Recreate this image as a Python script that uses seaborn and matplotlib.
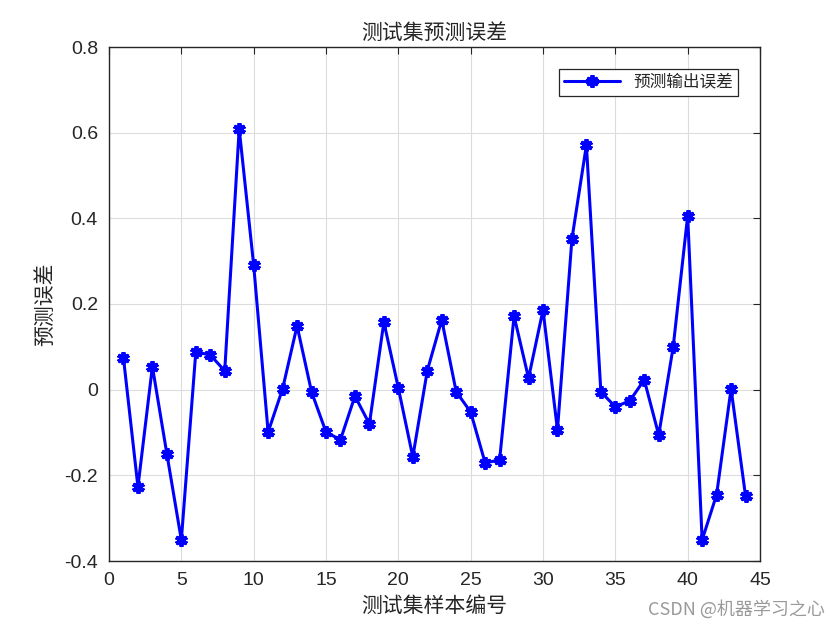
import matplotlib
matplotlib.use("Agg")
import matplotlib.pyplot as plt
import seaborn as sns
import pandas as pd

# ---- data ----
sample_idx = list(range(1, 45))
errors = [0.074, -0.227, 0.054, -0.150, -0.351, 0.088, 0.081, 0.044, 0.609, 0.291,
          -0.099, 0.002, 0.149, -0.005, -0.099, -0.117, -0.015, -0.080, 0.158, 0.004,
          -0.157, 0.044, 0.163, -0.005, -0.052, -0.171, -0.164, 0.172, 0.027, 0.186,
          -0.094, 0.352, 0.571, -0.005, -0.040, -0.026, 0.023, -0.106, 0.100, 0.406,
          -0.351, -0.245, 0.002, -0.248]
x_ticks = [0, 5, 10, 15, 20, 25, 30, 35, 40, 45]
y_ticks = [-0.4, -0.2, 0, 0.2, 0.4, 0.6, 0.8]
y_tick_labels = ["-0.4", "-0.2", "0", "0.2", "0.4", "0.6", "0.8"]
title = "测试集预测误差"
xlabel = "测试集样本编号"
ylabel = "预测误差"
legend_label = "预测输出误差"
watermark = "CSDN @机器学习之心"

sns.set_style("white")
plt.rcParams['font.family'] = ['Noto Sans CJK SC', 'DejaVu Sans']
tick_font = ['Liberation Sans', 'DejaVu Sans']

df = pd.DataFrame({"idx": sample_idx, "err": errors})

fig = plt.figure(figsize=(8.4, 6.3), dpi=100)
ax = fig.add_axes([109 / 840, 1 - 561 / 630, (760 - 109) / 840, (561 - 47) / 630])

sns.lineplot(data=df, x="idx", y="err", ax=ax, color="#0000ff", linewidth=2.2,
             marker=(6, 2, 0), markersize=9, markeredgewidth=2.8,
             markeredgecolor="#0000ff", label=legend_label)

ax.set_xlim(0, 45)
ax.set_ylim(-0.4, 0.8)
ax.set_xticks(x_ticks)
ax.set_xticklabels([str(t) for t in x_ticks], family=tick_font, fontsize=14, color="#262626")
ax.set_yticks(y_ticks)
ax.set_yticklabels(y_tick_labels, family=tick_font, fontsize=14, color="#262626")
ax.tick_params(axis="x", pad=8)
ax.tick_params(axis="y", pad=8)
ax.tick_params(direction="in", length=5, width=0.8, color="#262626",
               top=True, right=True)
ax.grid(True, color="#dcdcdc", linewidth=0.8)
for s in ax.spines.values():
    s.set_visible(True)
    s.set_color("#262626")
    s.set_linewidth(1.0)

ax.set_title(title, fontsize=15, color="#262626", pad=6)
ax.set_xlabel(xlabel, fontsize=15, color="#262626", labelpad=4)
ax.set_ylabel(ylabel, fontsize=15, color="#262626", labelpad=6)

leg = ax.legend(loc="upper right", fontsize=12, frameon=True, fancybox=False,
                edgecolor="#262626", framealpha=1, handlelength=3.4,
                borderpad=0.3, borderaxespad=1.3)
leg.get_frame().set_linewidth(0.9)

fig.text(0.982, 0.033, watermark, ha="right", va="center", fontsize=13, color="#999999")

fig.savefig("out.png", dpi=100, facecolor="white")
